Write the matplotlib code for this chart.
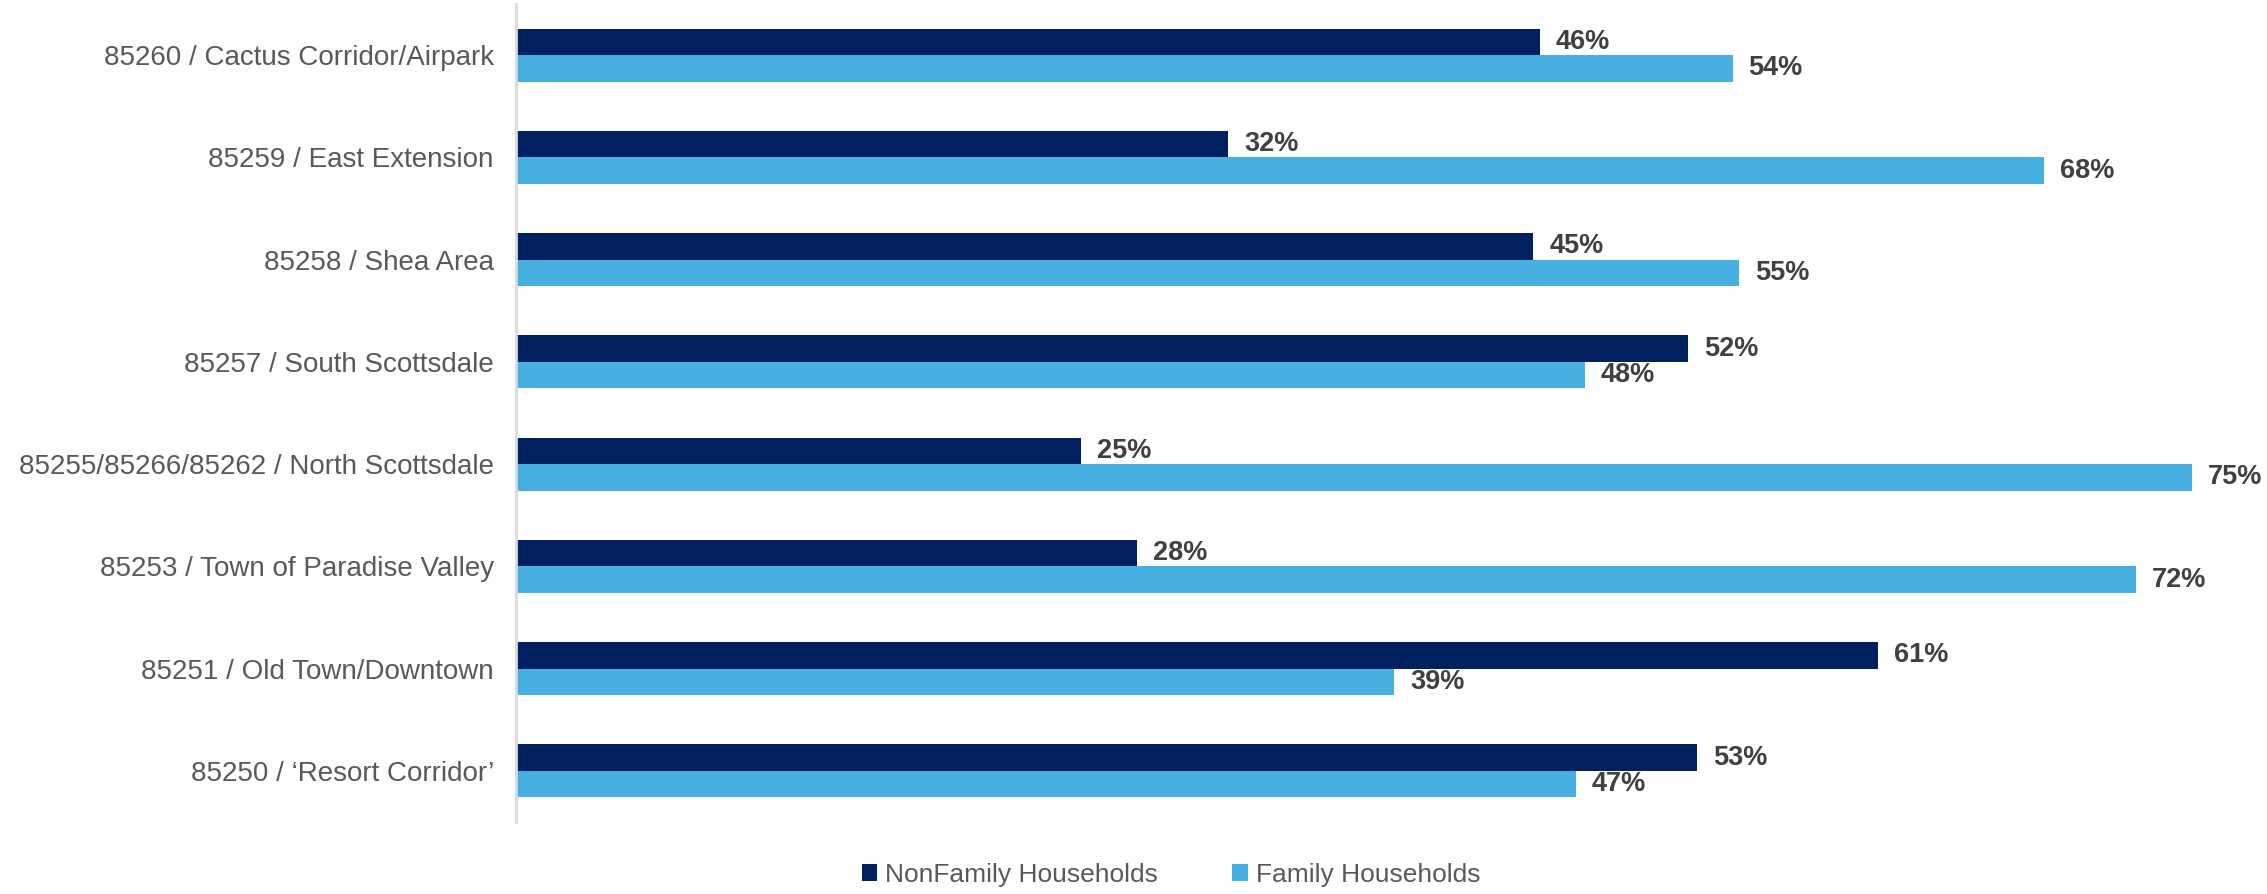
import numpy as np
import matplotlib.pyplot as plt

plt.rcParams['font.family'] = ['Liberation Sans', 'DejaVu Sans']

# zip code areas, listed top to bottom as in the chart
areas = ['85260 / Cactus Corridor/Airpark', '85259 / East Extension',
         '85258 / Shea Area', '85257 / South Scottsdale',
         '85255/85266/85262 / North Scottsdale',
         '85253 / Town of Paradise Valley', '85251 / Old Town/Downtown',
         '85250 / \u2018Resort Corridor\u2019']
# share of households (%)
nonfamily = [45.7, 31.8, 45.4, 52.3, 25.2, 27.7, 60.8, 52.7]
family = [54.3, 68.2, 54.6, 47.7, 74.8, 72.3, 39.2, 47.3]
series_names = ['NonFamily Households', 'Family Households']

dark = '#002060'
light = '#48B0E0'

fig = plt.figure(figsize=(22.67, 8.94), dpi=100)
ax = fig.add_axes([516/2267, 72/894, 1751/2267, 818/894])

y = np.arange(len(areas))
h = 0.26
b1 = ax.barh(y - h/2, nonfamily, h, color=dark, label=series_names[0])
b2 = ax.barh(y + h/2, family, h, color=light, label=series_names[1])

for bars, vals in ((b1, nonfamily), (b2, family)):
    for bar, v in zip(bars, vals):
        ax.annotate('%d%%' % round(v), (bar.get_width(), bar.get_y() + h/2),
                    xytext=(11.5, 0), textcoords='offset points',
                    ha='left', va='center', fontsize=19.5, fontweight='bold',
                    color='#404040', annotation_clip=False)

ax.set_xlim(0, 78.15)
ax.set_ylim(len(areas) - 0.5, -0.5)
ax.set_yticks(y)
ax.set_yticklabels(areas, fontsize=20, color='#595959')
ax.tick_params(axis='y', length=0, pad=16)
ax.set_xticks([])
for s in ('top', 'right', 'bottom'):
    ax.spines[s].set_visible(False)
ax.spines['left'].set_color('#d9d9d9')
ax.spines['left'].set_linewidth(2)

fig.legend(loc='center', bbox_to_anchor=(1171/2267, 1 - 875/894), ncol=2,
           frameon=False, fontsize=19, labelcolor='#595959',
           handlelength=0.6, handleheight=0.6, handletextpad=0.3,
           columnspacing=2.8)

plt.savefig('out.png')
